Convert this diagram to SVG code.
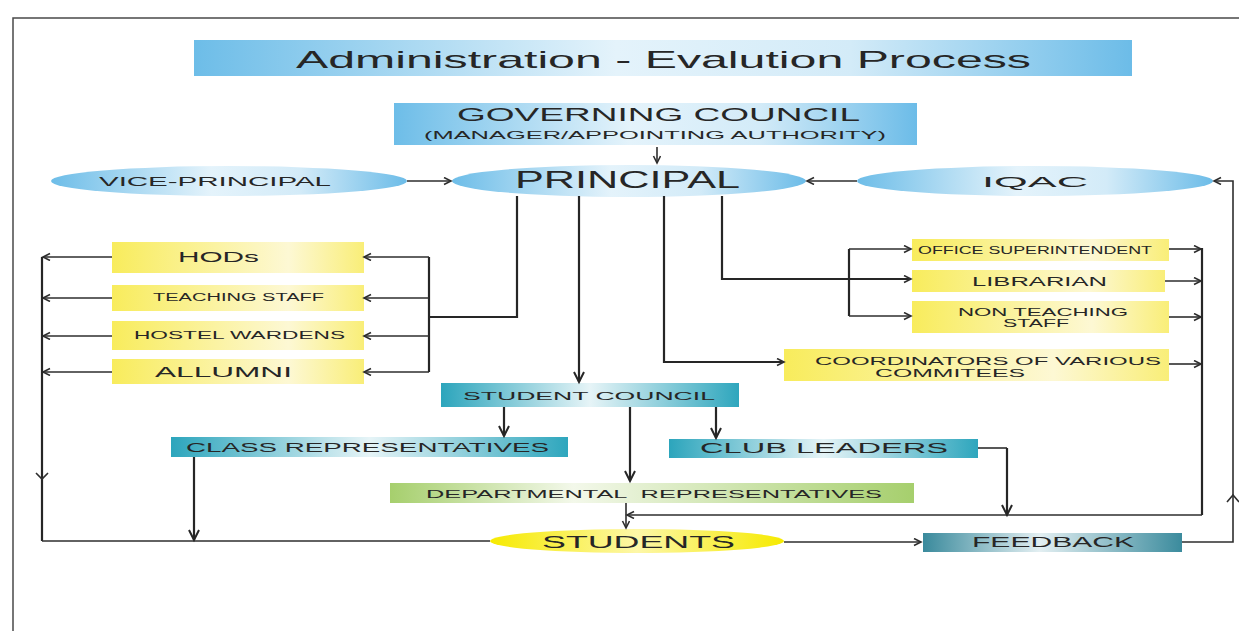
<svg xmlns="http://www.w3.org/2000/svg" width="1239" height="631" viewBox="0 0 1239 631">
<style>
text{font-family:"Liberation Sans",Arial,sans-serif;fill:#262626;}
.c{fill:none;stroke:#2e2e2e;stroke-width:1.6;}
.h{fill:none;stroke:#262626;stroke-width:2.2;}
</style>
<defs>
<linearGradient id="gBlue" x1="0" y1="0" x2="1" y2="0">
<stop offset="0" stop-color="#6dbde8"/><stop offset="0.45" stop-color="#e4f3fb"/><stop offset="0.7" stop-color="#d3ebf8"/><stop offset="1" stop-color="#6cbce8"/>
</linearGradient>
<linearGradient id="gYel" x1="0" y1="0" x2="1" y2="0">
<stop offset="0" stop-color="#f8ec5c"/><stop offset="0.7" stop-color="#fdf8d4"/><stop offset="1" stop-color="#f9ee78"/>
</linearGradient>
<linearGradient id="gTeal" x1="0" y1="0" x2="1" y2="0">
<stop offset="0" stop-color="#2ca5bc"/><stop offset="0.5" stop-color="#e6f4f7"/><stop offset="1" stop-color="#2ea6bd"/>
</linearGradient>
<linearGradient id="gDark" x1="0" y1="0" x2="1" y2="0">
<stop offset="0" stop-color="#3a8a9c"/><stop offset="0.45" stop-color="#e3eff2"/><stop offset="1" stop-color="#3b8b9d"/>
</linearGradient>
<linearGradient id="gGreen" x1="0" y1="0" x2="1" y2="0">
<stop offset="0" stop-color="#a6cf6d"/><stop offset="0.35" stop-color="#f3f8ea"/><stop offset="1" stop-color="#a6cf6d"/>
</linearGradient>
<linearGradient id="gStu" x1="0" y1="0" x2="1" y2="0">
<stop offset="0" stop-color="#f6ea00"/><stop offset="0.5" stop-color="#fdf7a8"/><stop offset="1" stop-color="#f6ea00"/>
</linearGradient>
<marker id="a" markerWidth="10" markerHeight="10" refX="8" refY="4" orient="auto" markerUnits="userSpaceOnUse">
<path d="M1,0.5 L8,4 L1,7.5" fill="none" stroke="#2e2e2e" stroke-width="1.6"/>
</marker>
<marker id="b" markerWidth="14" markerHeight="14" refX="11" refY="6" orient="auto" markerUnits="userSpaceOnUse">
<path d="M1,1 L11,6 L1,11" fill="none" stroke="#262626" stroke-width="2"/>
</marker>
</defs>

<path d="M13 631 V18 H1239" fill="none" stroke="#4a4a4a" stroke-width="1.5"/>

<g id="title"><rect x="194" y="40" width="938" height="36" fill="url(#gBlue)"/>
<text x="296" y="68" font-size="24" textLength="735" lengthAdjust="spacingAndGlyphs">Administration - Evalution Process</text></g>

<g id="governing"><rect x="394" y="103" width="523" height="42" fill="url(#gBlue)"/>
<text x="457" y="121" font-size="18" textLength="403" lengthAdjust="spacingAndGlyphs">GOVERNING COUNCIL</text>
<text x="424" y="139" font-size="11.5" textLength="462" lengthAdjust="spacingAndGlyphs">(MANAGER/APPOINTING AUTHORITY)</text></g>

<g id="vice"><ellipse cx="229" cy="181" rx="178" ry="15" fill="url(#gBlue)"/>
<text x="99" y="186" font-size="13.5" textLength="232" lengthAdjust="spacingAndGlyphs">VICE-PRINCIPAL</text></g>
<g id="principal"><ellipse cx="629" cy="181" rx="177" ry="16" fill="url(#gBlue)"/>
<text x="515" y="188" font-size="24" textLength="225" lengthAdjust="spacingAndGlyphs">PRINCIPAL</text></g>
<g id="iqac"><ellipse cx="1035" cy="181" rx="178" ry="15" fill="url(#gBlue)"/>
<text x="982" y="187" font-size="15" textLength="106" lengthAdjust="spacingAndGlyphs">IQAC</text></g>

<g id="hods"><rect x="112" y="242" width="252" height="31" fill="url(#gYel)"/>
<text x="178" y="262" font-size="14" textLength="81" lengthAdjust="spacingAndGlyphs">HODs</text></g>
<g id="teaching"><rect x="112" y="285" width="252" height="26" fill="url(#gYel)"/>
<text x="153" y="301" font-size="10" textLength="171" lengthAdjust="spacingAndGlyphs">TEACHING STAFF</text></g>
<g id="hostel"><rect x="112" y="321" width="252" height="29" fill="url(#gYel)"/>
<text x="134" y="339" font-size="11.5" textLength="211" lengthAdjust="spacingAndGlyphs">HOSTEL WARDENS</text></g>
<g id="allumni"><rect x="112" y="359" width="252" height="25" fill="url(#gYel)"/>
<text x="155" y="377" font-size="15" textLength="137" lengthAdjust="spacingAndGlyphs">ALLUMNI</text></g>

<g id="office"><rect x="912" y="239" width="257" height="22" fill="url(#gYel)"/>
<text x="918" y="254" font-size="10.5" textLength="234" lengthAdjust="spacingAndGlyphs">OFFICE SUPERINTENDENT</text></g>
<g id="librarian"><rect x="912" y="270" width="253" height="22" fill="url(#gYel)"/>
<text x="972" y="286" font-size="13" textLength="135" lengthAdjust="spacingAndGlyphs">LIBRARIAN</text></g>
<g id="nonteaching"><rect x="912" y="301" width="257" height="32" fill="url(#gYel)"/>
<text x="958" y="315.5" font-size="11" textLength="170" lengthAdjust="spacingAndGlyphs">NON TEACHING</text>
<text x="1003" y="327" font-size="11" textLength="66" lengthAdjust="spacingAndGlyphs">STAFF</text></g>
<g id="coordinators"><rect x="784" y="349" width="385" height="32" fill="url(#gYel)"/>
<text x="815" y="364.5" font-size="11.5" textLength="346" lengthAdjust="spacingAndGlyphs">COORDINATORS OF VARIOUS</text>
<text x="875" y="377" font-size="11.5" textLength="150" lengthAdjust="spacingAndGlyphs">COMMITEES</text></g>

<g id="studentcouncil"><rect x="441" y="383" width="298" height="24" fill="url(#gTeal)"/>
<text x="463" y="400" font-size="11.5" textLength="252" lengthAdjust="spacingAndGlyphs">STUDENT COUNCIL</text></g>
<g id="classreps"><rect x="171" y="437" width="397" height="20" fill="url(#gTeal)"/>
<text x="186" y="452" font-size="13" textLength="363" lengthAdjust="spacingAndGlyphs">CLASS REPRESENTATIVES</text></g>
<g id="clubleaders"><rect x="669" y="439" width="309" height="19" fill="url(#gTeal)"/>
<text x="700" y="453" font-size="15" textLength="248" lengthAdjust="spacingAndGlyphs">CLUB LEADERS</text></g>
<g id="departmental"><rect x="390" y="483" width="524" height="20" fill="url(#gGreen)"/>
<text x="426" y="498" font-size="11.5" textLength="456" lengthAdjust="spacingAndGlyphs" style="white-space:pre">DEPARTMENTAL  REPRESENTATIVES</text></g>
<g id="students"><ellipse cx="637" cy="541" rx="147" ry="12" fill="url(#gStu)"/>
<text x="542" y="548" font-size="16" textLength="193" lengthAdjust="spacingAndGlyphs">STUDENTS</text></g>
<g id="feedback"><rect x="923" y="533" width="259" height="19" fill="url(#gDark)"/>
<text x="972" y="547" font-size="14" textLength="162" lengthAdjust="spacingAndGlyphs">FEEDBACK</text></g>

<g id="connectors">
<path class="c" d="M657 147 V163" marker-end="url(#a)"/>
<path class="c" d="M407 181 H451" marker-end="url(#a)"/>
<path class="c" d="M857 181 H807" marker-end="url(#a)"/>
<path class="c" d="M1182 542 H1233 V181 H1214" marker-end="url(#a)"/>
<path class="c" d="M1227 502 L1233 495 L1239 502"/>

<path class="h" d="M517 196 V317 H429"/>
<path class="h" d="M429 257 V372"/>
<path class="c" d="M429 257 H364" marker-end="url(#a)"/>
<path class="c" d="M429 298 H364" marker-end="url(#a)"/>
<path class="c" d="M429 336 H364" marker-end="url(#a)"/>
<path class="c" d="M429 372 H364" marker-end="url(#a)"/>
<path class="c" d="M112 257 H43" marker-end="url(#a)"/>
<path class="c" d="M112 298 H43" marker-end="url(#a)"/>
<path class="c" d="M112 336 H43" marker-end="url(#a)"/>
<path class="c" d="M112 372 H43" marker-end="url(#a)"/>
<path class="h" d="M42 257 V541"/>
<path class="c" d="M42 541 H490"/>
<path class="c" d="M36 473 L42 479 L48 473"/>

<path class="h" d="M579 196 V382" marker-end="url(#b)"/>
<path class="h" d="M664 196 V362 H784" marker-end="url(#a)"/>
<path class="h" d="M722 196 V279 H911" marker-end="url(#a)"/>
<path class="h" d="M849 249 V316"/>
<path class="c" d="M849 249 H911" marker-end="url(#a)"/>
<path class="c" d="M849 316 H911" marker-end="url(#a)"/>

<path class="c" d="M1169 249 H1201" marker-end="url(#a)"/>
<path class="c" d="M1165 281 H1201" marker-end="url(#a)"/>
<path class="c" d="M1169 317 H1201" marker-end="url(#a)"/>
<path class="c" d="M1169 364 H1201" marker-end="url(#a)"/>
<path class="h" d="M1202 248 V515"/>
<path class="c" d="M1202 515 H627" marker-end="url(#a)"/>

<path class="h" d="M504 407 V436" marker-end="url(#b)"/>
<path class="h" d="M630 407 V481" marker-end="url(#b)"/>
<path class="h" d="M716 407 V438" marker-end="url(#b)"/>
<path class="h" d="M194 457 V540" marker-end="url(#b)"/>
<path class="c" d="M978 448 H1007"/>
<path class="h" d="M1007 448 V515" marker-end="url(#b)"/>
<path class="c" d="M626 503 V528" marker-end="url(#a)"/>
<path class="c" d="M784 542 H921" marker-end="url(#a)"/>
</g>
</svg>
